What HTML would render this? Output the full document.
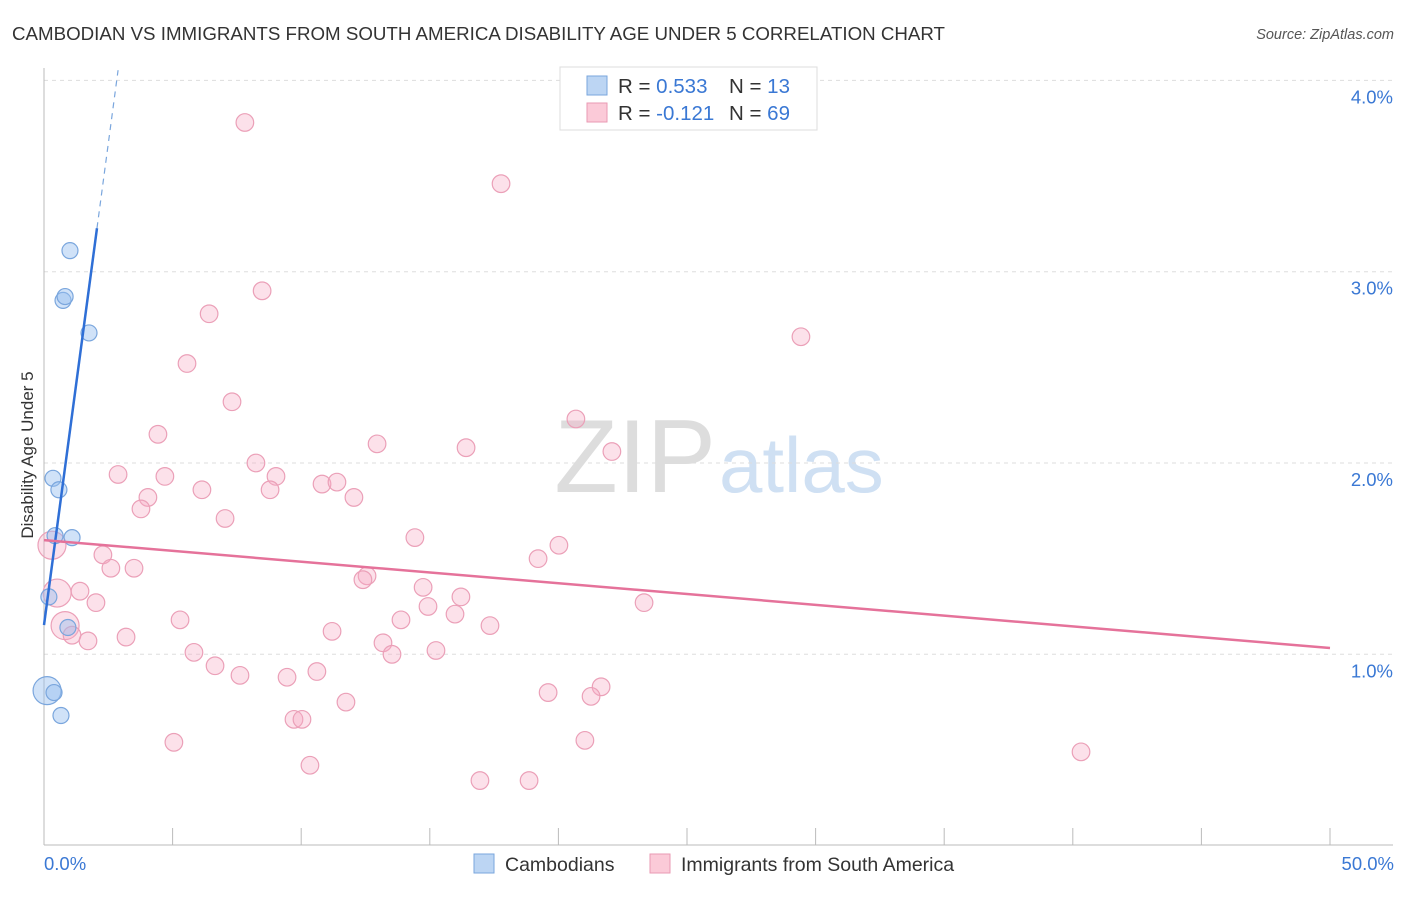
<!DOCTYPE html>
<html><head><meta charset="utf-8"><style>
body{margin:0;background:#fff;font-family:"Liberation Sans",sans-serif;}
svg text{font-family:"Liberation Sans",sans-serif;}
</style></head><body>
<svg id="chart" width="1406" height="892" viewBox="0 0 1406 892">
<text x="12" y="40" font-size="18.6" fill="#333" textLength="933" lengthAdjust="spacingAndGlyphs">CAMBODIAN VS IMMIGRANTS FROM SOUTH AMERICA DISABILITY AGE UNDER 5 CORRELATION CHART</text>
<text x="1394" y="39" font-size="14.5" fill="#555" text-anchor="end" font-style="italic">Source: ZipAtlas.com</text>
<text x="716" y="492" font-size="104" fill="#ddd" text-anchor="end" font-family="Liberation Serif">ZIP</text>
<text x="719" y="492" font-size="78" fill="#cfe0f3">atlas</text>
<g id="grid"></g><g id="axes"></g><g id="marks"></g>
<text transform="translate(33,455) rotate(-90)" font-size="17" fill="#333" text-anchor="middle">Disability Age Under 5</text>
<g>
<rect x="560" y="67" width="257" height="63" fill="#fff" stroke="#ddd"/>
<rect x="587" y="76" width="20" height="19" fill="#bcd5f3" stroke="#7aa6dd"/>
<rect x="587" y="103" width="20" height="19" fill="#fbcad8" stroke="#e99ab3"/>
<text x="618" y="93" font-size="20.5" fill="#333">R = <tspan fill="#3a78d4">0.533</tspan><tspan x="729">N = </tspan><tspan fill="#3a78d4">13</tspan></text>
<text x="618" y="120" font-size="20.5" fill="#333">R = <tspan fill="#3a78d4">-0.121</tspan><tspan x="729">N = </tspan><tspan fill="#3a78d4">69</tspan></text>
</g>
<g>
<rect x="474" y="854" width="20" height="19" fill="#bcd5f3" stroke="#7aa6dd"/>
<text x="505" y="871" font-size="19.5" fill="#333">Cambodians</text>
<rect x="650" y="854" width="20" height="19" fill="#fbcad8" stroke="#e99ab3"/>
<text x="681" y="871" font-size="19.5" fill="#333">Immigrants from South America</text>
</g>
</svg>
<script>
const yTicks=[1,2,3,4];
const yTickLabels=["1.0%","2.0%","3.0%","4.0%"];
const xTicks=[5,10,15,20,25,30,35,40,45,50];
const blueX=[1.01,0.74,0.82,1.75,0.35,0.58,0.43,1.09,0.19,0.93,0.12,0.39,0.66];
const blueY=[3.11,2.85,2.87,2.68,1.92,1.86,1.62,1.61,1.30,1.14,0.81,0.80,0.68];
const blueR=[8,8,8,8,8,8,8,8,8,8,14,8,8];
const pinkX=[7.81,17.77,8.48,6.42,29.43,5.56,7.31,4.43,20.68,12.95,16.41,22.08,8.24,2.88,4.70,9.02,6.14,8.79,4.04,10.81,11.39,12.05,3.77,7.04,14.42,0.31,20.02,19.21,2.29,2.60,3.50,12.56,12.40,1.40,14.74,0.51,16.21,2.02,23.33,14.93,15.98,5.29,13.88,17.34,11.20,0.82,1.09,1.71,3.19,13.18,5.83,13.53,15.24,6.65,10.61,7.62,9.45,21.66,19.60,21.27,11.74,9.72,10.03,5.05,21.03,40.32,10.34,16.95,18.86];
const pinkY=[3.78,3.46,2.90,2.78,2.66,2.52,2.32,2.15,2.23,2.10,2.08,2.06,2.00,1.94,1.93,1.93,1.86,1.86,1.82,1.89,1.90,1.82,1.76,1.71,1.61,1.57,1.57,1.50,1.52,1.45,1.45,1.41,1.39,1.33,1.35,1.32,1.30,1.27,1.27,1.25,1.21,1.18,1.18,1.15,1.12,1.15,1.10,1.07,1.09,1.06,1.01,1.00,1.02,0.94,0.91,0.89,0.88,0.83,0.80,0.78,0.75,0.66,0.66,0.54,0.55,0.49,0.42,0.34,0.34];
const pinkBig=[25,35,45];
const blueTrend=[0,1.153,2.06,2.88,1.007];
const pinkTrend=[0,1.597,50,1.033];
const NS="http://www.w3.org/2000/svg";
const X=v=>44+v*25.72, Y=v=>845.6-v*191.3;
function mk(tag,attrs,parent){const e=document.createElementNS(NS,tag);for(const k in attrs)e.setAttribute(k,attrs[k]);document.getElementById(parent).appendChild(e);return e;}
yTicks.forEach((t,i)=>{
 const l=mk('line',{x1:44,x2:1393,y1:Y(t),y2:Y(t),stroke:'#ddd','stroke-dasharray':'4,4'},'grid');
 
 
 const tx=mk('text',{x:1393,y:Y(t)+23,'font-size':18.5,fill:'#3a78d4','text-anchor':'end'},'axes');
 tx.textContent=yTickLabels[i];
 
 
});
let a=mk('line',{x1:44,x2:44,y1:68,y2:845,stroke:'#bbb'},'axes');


a=mk('line',{x1:44,x2:1393,y1:845,y2:845,stroke:'#bbb'},'axes');


xTicks.forEach(t=>{const l=mk('line',{x1:X(t),x2:X(t),y1:828,y2:845,stroke:'#bbb'},'axes');
 
 });
let t0=mk('text',{x:44,y:870,'font-size':18.5,fill:'#3a78d4'},'axes');t0.textContent='0.0%';


t0=mk('text',{x:1394,y:870,'font-size':18.5,fill:'#3a78d4','text-anchor':'end'},'axes');t0.textContent='50.0%';


pinkX.forEach((x,i)=>{const c=mk('circle',{cx:X(x),cy:Y(pinkY[i]),r:pinkBig.includes(i)?14:8.8,fill:'rgba(246,170,195,0.35)',stroke:'#eba0b8','stroke-width':1.2},'marks');
 
 });
blueX.forEach((x,i)=>{const c=mk('circle',{cx:X(x),cy:Y(blueY[i]),r:blueR[i],fill:'rgba(150,190,240,0.45)',stroke:'#7aa6dd','stroke-width':1.2},'marks');
 
 });
const by=x=>blueTrend[1]+blueTrend[4]*x;
let tl=mk('line',{x1:X(blueTrend[0]),y1:Y(by(blueTrend[0])),x2:X(blueTrend[2]),y2:Y(by(blueTrend[2])),stroke:'#2f6fd6','stroke-width':2.5},'marks');


tl=mk('line',{x1:X(blueTrend[2]),y1:Y(by(blueTrend[2])),x2:X(blueTrend[3]),y2:Y(by(blueTrend[3])),stroke:'#7aa6dd','stroke-width':1.2,'stroke-dasharray':'6,5'},'marks');


tl=mk('line',{x1:X(pinkTrend[0]),y1:Y(pinkTrend[1]),x2:X(pinkTrend[2]),y2:Y(pinkTrend[3]),stroke:'#e5729a','stroke-width':2.5},'marks');


</script>
</body></html>
